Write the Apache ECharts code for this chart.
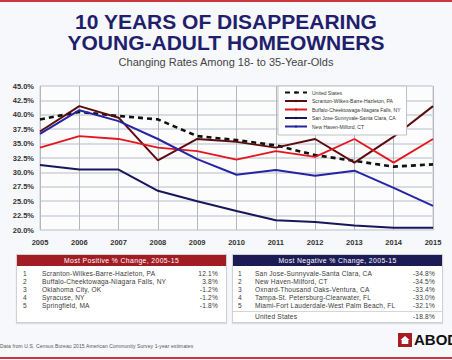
<!DOCTYPE html>
<html><head><meta charset="utf-8">
<script src="https://cdn.jsdelivr.net/npm/echarts@6/dist/echarts.min.js"></script>
<style>
html,body{margin:0;padding:0;width:452px;height:360px;overflow:hidden;background:#f7f8fb;font-family:"Liberation Sans",Arial,sans-serif;}
#chart{position:absolute;left:0;top:0;width:452px;height:360px;}
.abs{position:absolute;}
#topbar{left:0;top:0;width:452px;height:2px;background:#c9373b;}
#botbar{left:0;top:357px;width:452px;height:2px;background:#c9373b;}
#t1,#t2{left:0;width:452px;text-align:center;font-weight:bold;color:#1f1f6c;font-size:21px;line-height:22px;}
#t1{top:11px;} #t2{top:32px;}
#sub{left:0;top:56px;width:452px;text-align:center;color:#444;font-size:11px;line-height:13px;}
.tbl{background:#fff;border:1px solid #cfd1d6;box-shadow:0 1px 1px #dcdde2;}
.hdr{height:11px;line-height:11px;color:#fff;font-size:6.8px;text-align:center;letter-spacing:0.4px;}
.row{position:absolute;left:0;width:100%;height:8px;line-height:8px;font-size:6.6px;color:#3a3a3a;letter-spacing:0.2px;}
.row span{position:absolute;white-space:nowrap;}
#foot{left:0px;top:343px;font-size:5px;color:#555;white-space:nowrap;letter-spacing:0.1px;}
#logo{left:398px;top:333px;width:14px;height:14px;background:#a81d22;}
#abodo{left:414px;top:332px;font-size:15px;font-weight:bold;color:#111;line-height:16px;white-space:nowrap;}
</style></head>
<body>
<div id="chart"></div>
<div class="abs" id="topbar"></div>
<div class="abs" id="t1">10 YEARS OF DISAPPEARING</div>
<div class="abs" id="t2">YOUNG-ADULT HOMEOWNERS</div>
<div class="abs" id="sub">Changing Rates Among 18- to 35-Year-Olds</div>
<div class="abs tbl" id="tpos" style="left:16px;top:254px;width:209px;height:67px;"></div>
<div class="abs tbl" id="tneg" style="left:232px;top:254px;width:209px;height:67px;"></div>
<div class="abs" id="foot">Data from U.S. Census Bureau 2015 American Community Survey 1-year estimates</div>
<div class="abs" id="logo"><svg width="14" height="14" viewBox="0 0 14 14"><path d="M7 3 L11.5 7 L10.3 7 L10.3 11 L3.7 11 L3.7 7 L2.5 7 Z" fill="#fff"/></svg></div>
<div class="abs" id="abodo">ABODO</div>
<div class="abs" id="botbar"></div>
<script>
// ---- data ----
const years = ['2005','2006','2007','2008','2009','2010','2011','2012','2013','2014','2015'];
const seriesNames = ['United States','Scranton-Wilkes-Barre-Hazleton, PA','Buffalo-Cheektowaga-Niagara Falls, NY','San Jose-Sunnyvale-Santa Clara, CA','New Haven-Milford, CT'];
const usValues       = [39.2, 40.5, 39.8, 39.2, 36.3, 35.6, 34.7, 33.0, 32.0, 31.0, 31.4];
const scrantonValues = [37.1, 41.5, 39.5, 32.1, 35.8, 35.3, 34.3, 35.8, 31.7, 36.2, 41.5];
const buffaloValues  = [34.3, 36.3, 35.8, 34.3, 33.7, 32.2, 33.7, 32.7, 35.8, 31.7, 35.8];
const sanJoseValues  = [31.3, 30.5, 30.5, 26.8, 25.0, 23.3, 21.7, 21.4, 20.8, 20.4, 20.4];
const newHavenValues = [36.7, 40.8, 38.9, 35.8, 32.3, 29.6, 30.4, 29.4, 30.3, 27.3, 24.2];
const yTicks = {min: 20, max: 45, interval: 2.5};

const posTitle = 'Most Positive % Change, 2005-15';
const posRanks = ['1','2','3','4','5'];
const posNames = ['Scranton-Wilkes-Barre-Hazleton, PA','Buffalo-Cheektowaga-Niagara Falls, NY','Oklahoma City, OK','Syracuse, NY','Springfield, MA'];
const posValues = ['12.1%','3.8%','-1.2%','-1.2%','-1.8%'];
const negTitle = 'Most Negative % Change, 2005-15';
const negRanks = ['1','2','3','4','5'];
const negNames = ['San Jose-Sunnyvale-Santa Clara, CA','New Haven-Milford, CT','Oxnard-Thousand Oaks-Ventura, CA','Tampa-St. Petersburg-Clearwater, FL','Miami-Fort Lauderdale-West Palm Beach, FL'];
const negValues = ['-34.8%','-34.5%','-33.4%','-33.0%','-32.1%'];
const usName = 'United States';
const usChange = '-18.8%';

// ---- tables ----
function buildTable(el, title, color, ranks, names, vals, rankX, nameX, valR, extra){
  let h = '<div class="hdr" style="background:'+color+'">'+title+'</div>';
  for(let i=0;i<ranks.length;i++){
    h += '<div class="row" style="top:'+(15+i*8)+'px"><span style="left:'+rankX+'px">'+ranks[i]+'</span><span style="left:'+nameX+'px">'+names[i]+'</span><span style="right:'+valR+'px">'+vals[i]+'</span></div>';
  }
  if(extra){
    h += '<div style="position:absolute;left:0;top:56px;width:100%;height:1px;background:#d4d6da"></div>';
    h += '<div class="row" style="top:58px"><span style="left:'+nameX+'px">'+extra[0]+'</span><span style="right:'+valR+'px">'+extra[1]+'</span></div>';
  }
  el.innerHTML = h;
}
buildTable(document.getElementById('tpos'), posTitle, '#a11d23', posRanks, posNames, posValues, 6, 25, 8, null);
buildTable(document.getElementById('tneg'), negTitle, '#1d1b56', negRanks, negNames, negValues, 5, 22, 7, [usName, usChange]);

// ---- chart ----
const chart = echarts.init(document.getElementById('chart'), null, {renderer:'svg'});
const colors = ['#111111','#5b0c0e','#e3161f','#17175c','#2525a3'];
const widths = [2.6, 2, 1.8, 2, 2];
const dataArr = [usValues, scrantonValues, buffaloValues, sanJoseValues, newHavenValues];
chart.setOption({
  animation:false,
  grid:{left:40, right:19, top:86, height:144, show:true, backgroundColor:'#fcfcfd', borderColor:'#c9cbd0', borderWidth:1},
  legend:{
    orient:'vertical', left:278, top:86, width:116,
    backgroundColor:'#ffffff', borderColor:'#bfc1c6', borderWidth:1,
    padding:[4,6,6,6], itemWidth:22, itemHeight:3, itemGap:3.5,
    textStyle:{fontSize:5, color:'#333', fontFamily:'Liberation Sans'},
    data: seriesNames
  },
  xAxis:{type:'category', data:years, boundaryGap:false,
    axisLine:{show:false}, axisTick:{show:false},
    axisLabel:{fontSize:7.5, color:'#333', margin:8, fontFamily:'Liberation Sans', fontWeight:'bold'},
    splitLine:{show:true, lineStyle:{color:'#b4b7bd', width:1}}},
  yAxis:{type:'value', min:yTicks.min, max:yTicks.max, interval:yTicks.interval,
    axisLine:{show:false}, axisTick:{show:false},
    axisLabel:{fontSize:7.5, color:'#333', margin:6, fontFamily:'Liberation Sans', fontWeight:'bold',
      formatter:v=>v.toFixed(1)+'%'},
    splitLine:{lineStyle:{color:'#d9dce2', width:2}}},
  series: seriesNames.map((n,i)=>({
    name:n, type:'line', data:dataArr[i], symbol:'none',
    lineStyle:{color:colors[i], width:widths[i], type: i===0?[5,4]:'solid'},
    itemStyle:{color:colors[i]}, z: i===0?1:2
  }))
});
</script>
</body></html>
